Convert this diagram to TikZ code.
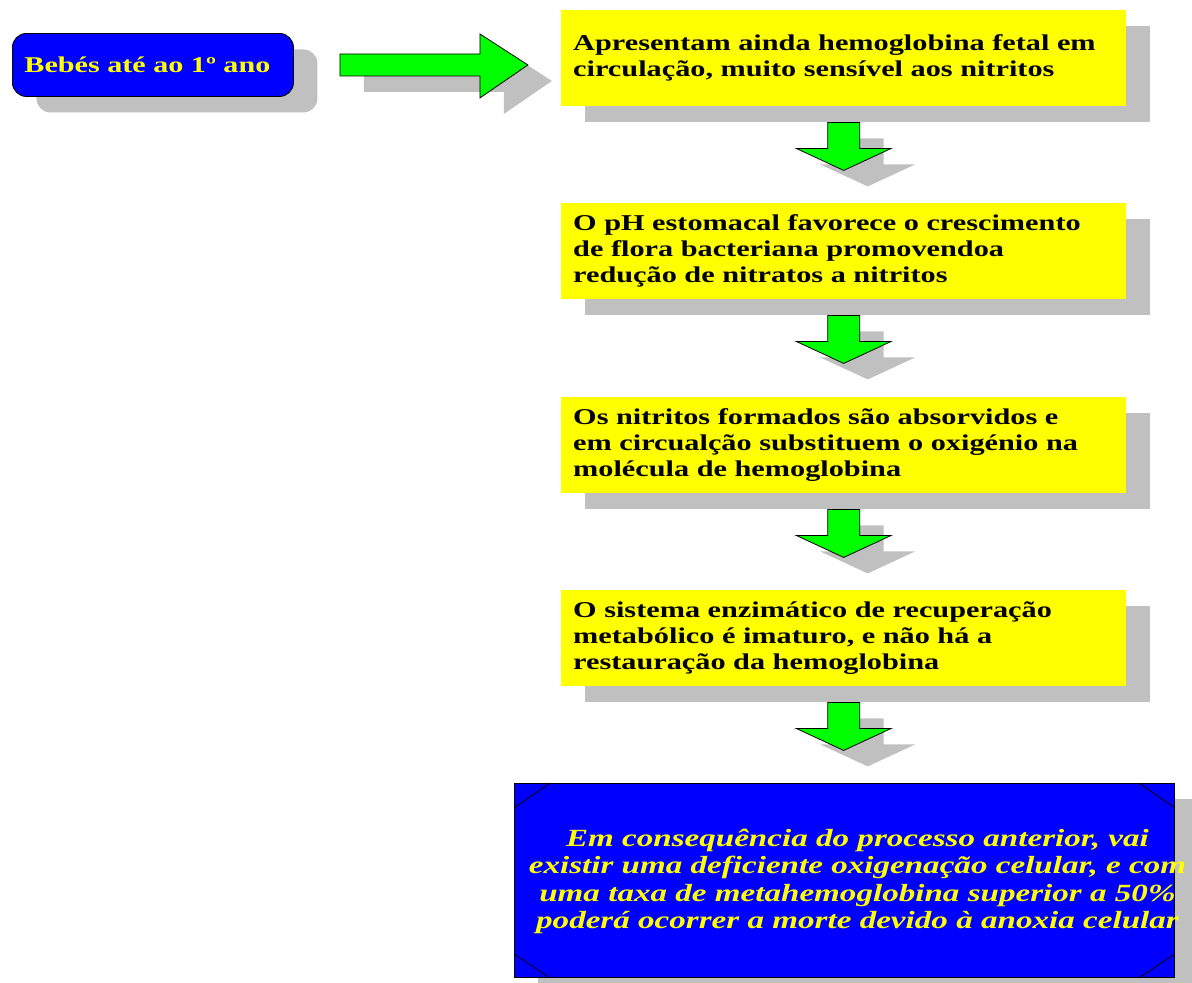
\documentclass[tikz,border=0pt]{standalone}
\usepackage{fontspec}
\setmainfont{Liberation Serif}[FakeStretch=1.34]
\usetikzlibrary{calc,shadows}
\definecolor{cYellow}{RGB}{255,255,0}
\definecolor{cBlue}{RGB}{0,0,255}
\definecolor{cGreen}{RGB}{0,255,0}
\definecolor{cShad}{RGB}{192,192,192}
\tikzset{
  shad/.style={drop shadow={shadow xshift=24pt,shadow yshift=-16pt,fill=cShad,opacity=1,draw=none}},
  yellowbox/.style={shad,fill=cYellow,anchor=north west,minimum width=565pt,minimum height=96pt,
    text width=541pt,inner xsep=12pt,inner ysep=0pt,align=left,
    font=\fontsize{22.6}{26}\selectfont\bfseries},
  startbox/.style={shad,fill=cBlue,draw=black,line width=0.9pt,rounded corners=14pt,anchor=north west,
    minimum width=281pt,minimum height=63pt,text width=257pt,inner xsep=12pt,inner ysep=0pt,align=left,
    text=cYellow,font=\fontsize{22.5}{26}\selectfont\bfseries},
  endbox/.style={shad,fill=cBlue,draw=black,line width=0.9pt,anchor=north west,
    minimum width=660pt,minimum height=194pt,inner sep=0pt},
  endtext/.style={text=cYellow,align=center,inner sep=0pt,
    font=\fontsize{24.7}{27.3}\selectfont\bfseries\itshape},
  blockarrow/.style={shad,fill=cGreen,draw=black,line width=0.8pt,line join=miter},
  bevel/.style={draw=black,line width=0.8pt}
}
\newcommand\dnarrow[1]{%
  \begin{scope}[shift={($(#1.south)+(0,16)$)}]
    \draw[blockarrow] (-16,0) -- (16,0) -- (16,26) -- (47.5,26) -- (0,48) -- (-47.5,26) -- (-16,26) -- cycle;
  \end{scope}}
\begin{document}
\begin{tikzpicture}[x=1pt,y=-1pt]
\useasboundingbox (0,0) rectangle (1192,983);

\node[startbox] (bebes) at (12,33) {Bebés até ao 1º ano};

\node[yellowbox] (b1) at (561,10) {Apresentam ainda hemoglobina fetal em\\circulação, muito sensível aos nitritos};
\node[yellowbox] (b2) at (561,203) {O pH estomacal favorece o crescimento\\de flora bacteriana promovendoa\\redução de nitratos a nitritos};
\node[yellowbox] (b3) at (561,397) {Os nitritos formados são absorvidos e\\em circualção substituem o oxigénio na\\molécula de hemoglobina};
\node[yellowbox] (b4) at (561,590) {O sistema enzimático de recuperação\\metabólico é imaturo, e não há a\\restauração da hemoglobina};

\node[endbox] (b5) at (514,783) {};
\draw[bevel] ($(b5.north west)+(0,25)$) -- ($(b5.north west)+(36,0)$);
\draw[bevel] ($(b5.south west)+(0,-24)$) -- ($(b5.south west)+(36,0)$);
\draw[bevel] ($(b5.north east)+(0,25)$) -- ($(b5.north east)+(-36,0)$);
\draw[bevel] ($(b5.south east)+(0,-24)$) -- ($(b5.south east)+(-36,0)$);
\node[endtext] (b5t) at ($(b5.center)+(13,1)$) {Em consequência do processo anterior, vai\\existir uma deficiente oxigenação celular, e com\\uma taxa de metahemoglobina superior a 50\%\\poderá ocorrer a morte devido à anoxia celular};

% right block arrow from start box towards first step
\begin{scope}[shift={($(bebes.east)+(46,0)$)}]
  \draw[blockarrow] (0,-11) -- (140,-11) -- (140,-31) -- (188,0) -- (140,33) -- (140,11) -- (0,11) -- cycle;
\end{scope}

\dnarrow{b1}
\dnarrow{b2}
\dnarrow{b3}
\dnarrow{b4}
\end{tikzpicture}
\end{document}
